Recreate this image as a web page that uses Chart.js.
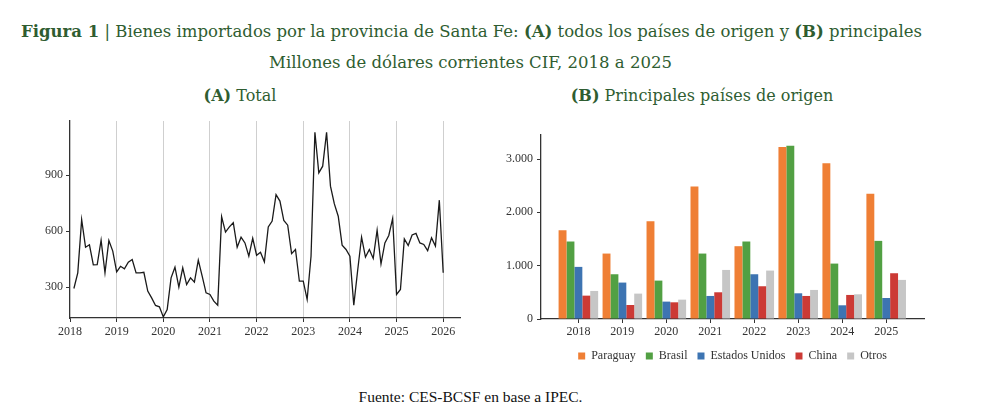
<!DOCTYPE html>
<html>
<head>
<meta charset="utf-8">
<script src="https://cdn.jsdelivr.net/npm/chart.js@4"></script>
<style>
  body { margin: 0; background: #fff; width: 981px; height: 410px; position: relative; overflow: hidden; }
  .tit { position: absolute; left: 0; width: 981px; text-align: center; color: #2f5d31;
         font-family: 'DejaVu Serif', serif; font-size: 16.5px; white-space: nowrap; }
  .tit b { font-weight: bold; }
  .sub { position: absolute; text-align: center; color: #2f5d31; font-family: 'DejaVu Serif', serif;
         font-size: 16px; white-space: nowrap; }
  #fuente { position: absolute; left: 0; width: 941px; top: 388px; text-align: center;
            font-family: 'Liberation Serif', serif; font-size: 15.5px; color: #111; }
  canvas { position: absolute; }
</style>
</head>
<body>
<div class="tit" style="top:22px; left:-19px"><b>Figura 1</b> | Bienes importados por la provincia de Santa Fe: <b>(A)</b> todos los países de origen y <b>(B)</b> principales</div>
<div class="tit" style="top:53px; left:-20px">Millones de dólares corrientes CIF, 2018 a 2025</div>
<div class="sub" style="top:86px; left:140px; width:200px"><b>(A)</b> Total</div>
<div class="sub" style="top:86px; left:552px; width:300px"><b>(B)</b> Principales países de origen</div>
<div id="fuente">Fuente: CES-BCSF en base a IPEC.</div>

<div style="position:absolute; left:0; top:105px; width:480px; height:245px"><canvas id="total"></canvas></div>
<div style="position:absolute; left:480px; top:120px; width:480px; height:252px"><canvas id="paises"></canvas></div>

<script>
// (A) importaciones mensuales totales, ene 2018 - dic 2025 (millones USD)
let total2018 = [293, 377, 662, 514, 527, 420, 421, 552, 377, 550, 493, 382];
let total2019 = [412, 398, 434, 448, 377, 377, 380, 279, 243, 202, 195, 141];
let total2020 = [180, 350, 407, 300, 404, 314, 350, 327, 445, 359, 270, 261];
let total2021 = [225, 204, 677, 595, 623, 645, 514, 568, 537, 466, 562, 471];
let total2022 = [487, 436, 623, 654, 796, 761, 657, 632, 480, 502, 332, 332];
let total2023 = [234, 466, 1130, 912, 948, 1130, 841, 746, 680, 525, 502, 466];
let total2024 = [204, 391, 568, 461, 502, 454, 605, 425, 537, 577, 668, 261];
let total2025 = [288, 559, 523, 580, 588, 537, 529, 496, 564, 520, 766, 377];
let anioInicio = 2018;
let ticksTotal = [300, 600, 900];

// (B) importaciones anuales por pais de origen
let anios = [2018, 2019, 2020, 2021, 2022, 2023, 2024, 2025];
let paraguay = [1666, 1227, 1835, 2486, 1365, 3225, 2918, 2348];
let brasil = [1453, 839, 720, 1227, 1453, 3250, 1039, 1465];
let estadosUnidos = [977, 683, 326, 432, 839, 482, 257, 394];
let china = [438, 263, 313, 501, 614, 432, 451, 858];
let otros = [526, 476, 363, 920, 908, 545, 463, 733];
let ticksPaises = [0, 1000, 2000, 3000];

Chart.defaults.font.family = "'Liberation Serif', serif";
Chart.defaults.font.size = 12;
Chart.defaults.color = '#333';
Chart.defaults.animation = false;
Chart.defaults.maintainAspectRatio = false;

let mensual = [].concat(total2018, total2019, total2020, total2021, total2022, total2023, total2024, total2025);
let puntos = mensual.map((v, i) => ({ x: anioInicio + (i + 1) / 12, y: v }));

let ejeColor = '#333';

// separador de miles con punto
function miles(v) {
	return String(Math.round(v)).replace(/\B(?=(\d{3})+(?!\d))/g, '.');
}

new Chart(document.getElementById('total'), {
	type: 'line',
	data: {
		datasets: [{
			data: puntos,
			borderColor: '#1a1a1a',
			borderWidth: 1.3,
			pointRadius: 0,
			tension: 0,
			fill: false
		}]
	},
	options: {
		layout: { padding: { top: 16, right: 20, left: 0, bottom: 0 } },
		plugins: { legend: { display: false }, tooltip: { enabled: false } },
		scales: {
			x: {
				type: 'linear',
				min: 2018,
				max: 2026.36,
				afterFit: (s) => { s.height = 32; },
				ticks: { stepSize: 1, includeBounds: false, padding: 3, maxRotation: 0,
					callback: (v) => String(v) },
				grid: {
					color: (c) => c.tick && c.tick.value === 2018 ? 'rgba(0,0,0,0)' : '#cfcfcf',
					lineWidth: 1,
					tickLength: 4,
					tickColor: ejeColor
				},
				border: { color: ejeColor, width: 1.3 }
			},
			y: {
				min: 135,
				max: 1190,
				afterFit: (s) => { s.width = 70; },
				afterBuildTicks: (s) => { s.ticks = ticksTotal.map(v => ({ value: v })); },
				ticks: { padding: 3, callback: (v) => String(v) },
				grid: { drawOnChartArea: false, tickLength: 4, tickColor: ejeColor },
				border: { color: ejeColor, width: 1.3 }
			}
		}
	}
});

function serie(valores) {
	return valores.map((v, i) => ({ x: anios[i], y: v }));
}

new Chart(document.getElementById('paises'), {
	type: 'bar',
	data: {
		datasets: [
			{ label: 'Paraguay', data: serie(paraguay), backgroundColor: '#ef7f35' },
			{ label: 'Brasil', data: serie(brasil), backgroundColor: '#52a043' },
			{ label: 'Estados Unidos', data: serie(estadosUnidos), backgroundColor: '#3d74b2' },
			{ label: 'China', data: serie(china), backgroundColor: '#cc3a35' },
			{ label: 'Otros', data: serie(otros), backgroundColor: '#c6c6c6' }
		]
	},
	options: {
		layout: { padding: { top: 15, right: 36, left: 0, bottom: 0 } },
		datasets: { bar: { categoryPercentage: 0.9, barPercentage: 1 } },
		plugins: {
			tooltip: { enabled: false },
			legend: {
				position: 'bottom',
				fullSize: false,
				labels: { boxWidth: 7, boxHeight: 7, padding: 10, color: '#333',
					font: { size: 12 } }
			}
		},
		scales: {
			x: {
				type: 'linear',
				offset: false,
				min: 2017.15,
				max: 2025.86,
				afterFit: (s) => { s.height = 21; },
				afterBuildTicks: (s) => { s.ticks = anios.map(v => ({ value: v })); },
				ticks: { padding: 2, maxRotation: 0, callback: (v) => String(v) },
				grid: { offset: false, drawOnChartArea: false, tickLength: 4, tickColor: ejeColor },
				border: { color: ejeColor, width: 1.3 }
			},
			y: {
				min: 0,
				max: 3450,
				afterFit: (s) => { s.width = 61; },
				afterBuildTicks: (s) => { s.ticks = ticksPaises.map(v => ({ value: v })); },
				ticks: { padding: 4, callback: (v) => miles(v) },
				grid: { drawOnChartArea: false, tickLength: 4, tickColor: ejeColor },
				border: { color: ejeColor, width: 1.3 }
			}
		}
	}
});
</script>
</body>
</html>
